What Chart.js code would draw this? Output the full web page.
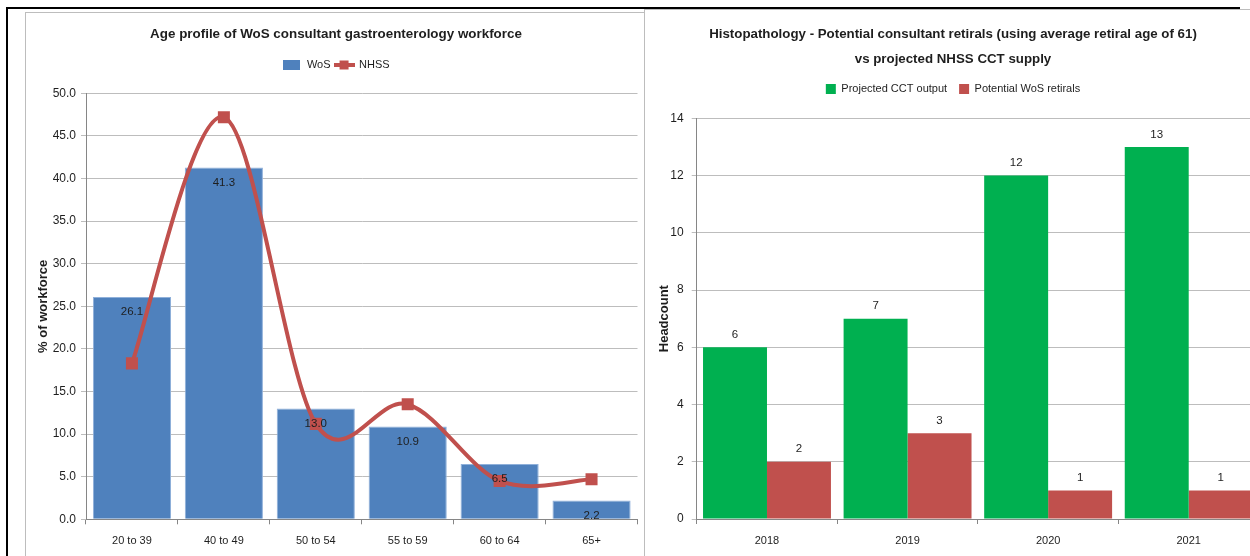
<!DOCTYPE html>
<html>
<head>
<meta charset="utf-8">
<title>Workforce charts</title>
<script src="https://cdn.jsdelivr.net/npm/chart.js@4.4.1/dist/chart.umd.min.js"></script>
<style>
  html, body { margin: 0; padding: 0; background: #fff; }
  body { width: 1250px; height: 556px; position: relative; overflow: hidden; }
  .rule { position: absolute; }
  canvas { position: absolute; }
  #rightPanel { position: absolute; left: 644px; top: 9px; width: 620px; height: 560px;
                background: #fff; border-left: 1px solid #bdbdbd; border-top: 1px solid #bdbdbd; }
</style>
</head>
<body>
<!-- frame lines -->
<div class="rule" style="left:6px;top:7px;width:2px;height:549px;background:#000"></div>
<div class="rule" style="left:6px;top:7px;width:1234px;height:2px;background:#000"></div>
<div class="rule" style="left:25px;top:12px;width:1px;height:544px;background:#bdbdbd"></div>
<div class="rule" style="left:25px;top:12px;width:620px;height:1px;background:#bdbdbd"></div>

<canvas id="ageChart" width="620" height="543" style="left:26px;top:13px"></canvas>
<div id="rightPanel"></div>
<canvas id="retChart" width="612" height="544" style="left:647px;top:12px"></canvas>

<script>
// ── DATA ──
const ageBands = ['20 to 39', '40 to 49', '50 to 54', '55 to 59', '60 to 64', '65+'];
const wosShare = [26.1, 41.3, 13.0, 10.9, 6.5, 2.2];
const nhssShare = [18.3, 47.2, 11.2, 13.5, 4.5, 4.7];
const ageAxisMax = 50;
const ageAxisStep = 5;

const years = ['2018', '2019', '2020', '2021'];
const cctOutput = [6, 7, 12, 13];
const wosRetirals = [2, 3, 1, 1];
const headAxisMax = 14;
const headAxisStep = 2;

// ── STYLE ──
const BLUE = '#4F81BD';
const RED = '#C0504D';
const GREEN = '#00B050';
const GRID = '#bdbdbd';
const AXIS = '#868686';
const INK = '#1e1e1e';
const SANS = "'Liberation Sans', Arial, sans-serif";
const yTickFont = { family: SANS, size: 12 };
const xTickFont = { family: SANS, size: 11 };
const axisTitleFont = { family: SANS, size: 13, weight: 'bold' };

// bar value labels (no datalabels plugin available offline)
const valueLabels = {
    id: 'valueLabels',
    afterDatasetsDraw(chart, args, opts) {
        const ctx = chart.ctx;
        ctx.save();
        ctx.font = '11.5px ' + SANS;
        ctx.fillStyle = INK;
        ctx.textAlign = 'center';
        ctx.textBaseline = 'middle';
        chart.data.datasets.forEach((ds, i) => {
            if (ds.type === 'line') return;
            chart.getDatasetMeta(i).data.forEach((bar, j) => {
                ctx.fillText(ds.data[j].toFixed(opts.decimals), bar.x, bar.y + opts.offset);
            });
        });
        ctx.restore();
    }
};

// spreadsheet-style smoothing: control points at +-(next - prev) / 6
const softCurve = {
    id: 'softCurve',
    beforeDatasetDraw(chart, args) {
        const meta = args.meta;
        if (meta.type !== 'line') return;
        meta.dataset.updateControlPoints(chart.chartArea, 'x');
        const pts = meta.data;
        pts.forEach((p, i) => {
            const prev = pts[Math.max(i - 1, 0)];
            const next = pts[Math.min(i + 1, pts.length - 1)];
            const dx = (next.x - prev.x) / 6;
            const dy = (next.y - prev.y) / 6;
            p.cp1x = p.x - dx; p.cp1y = p.y - dy;
            p.cp2x = p.x + dx; p.cp2y = p.y + dy;
        });
    }
};

// blank box under the legend to push the plot area down
const spacer = h => ({
    display: true, text: '', weight: 500,
    font: { size: 1, lineHeight: 1 },
    padding: { top: 0, bottom: h - 1 }
});

// legend icons: plain box for WoS, line with square marker for NHSS
function makeIcon(w, h, draw) {
    const c = document.createElement('canvas');
    c.width = w; c.height = h;
    draw(c.getContext('2d'));
    return c;
}
const wosIcon = makeIcon(17, 10, g => { g.fillStyle = BLUE; g.fillRect(0, 0, 17, 10); });
const nhssIcon = makeIcon(21, 10, g => {
    g.fillStyle = RED;
    g.fillRect(0, 3, 21, 4);
    g.fillRect(6, 0.5, 9, 9);
});
const legendIcons = [wosIcon, nhssIcon];

// ── AGE PROFILE CHART ──
new Chart(document.getElementById('ageChart'), {
    type: 'bar',
    data: {
        labels: ageBands,
        datasets: [{
            label: 'WoS',
            data: wosShare,
            backgroundColor: BLUE,
            borderColor: '#8fb0da',
            borderWidth: 1,
            barPercentage: 0.85,
            categoryPercentage: 1,
            order: 1
        }, {
            type: 'line',
            label: 'NHSS',
            data: nhssShare,
            borderColor: RED,
            borderWidth: 4,
            tension: 0.4,
            pointStyle: 'rect',
            pointRadius: 8.5,
            pointBackgroundColor: RED,
            pointBorderWidth: 0,
            order: 0
        }]
    },
    options: {
        responsive: false,
        animation: false,
        plugins: {
            title: {
                display: true,
                text: 'Age profile of WoS consultant gastroenterology workforce',
                color: INK,
                font: { family: SANS, size: 13.4, weight: 'bold', lineHeight: '16px' },
                padding: { top: 13, bottom: 13.5 }
            },
            legend: {
                labels: {
                    usePointStyle: true,
                    pointStyleWidth: 19,
                    padding: 4,
                    color: INK,
                    font: { family: SANS, size: 11 },
                    sort: (a, b) => a.datasetIndex - b.datasetIndex,
                    generateLabels: chart => Chart.defaults.plugins.legend.labels.generateLabels(chart)
                        .map(item => ({ ...item, pointStyle: legendIcons[item.datasetIndex] }))
                }
            },
            subtitle: spacer(12.8),
            tooltip: { enabled: false },
            valueLabels: { offset: 15, decimals: 1 }
        },
        scales: {
            x: {
                grid: { offset: true, drawOnChartArea: false, color: AXIS, tickLength: 5 },
                border: { color: AXIS },
                ticks: { color: INK, font: xTickFont, padding: 10 },
                afterFit: s => { s.height = 36.7; }
            },
            y: {
                min: 0,
                max: ageAxisMax,
                grid: { color: GRID, tickLength: 5 },
                border: { color: AXIS },
                ticks: { stepSize: ageAxisStep, color: INK, font: yTickFont, padding: 5,
                         callback: v => v.toFixed(1) },
                title: {
                    display: true,
                    text: '% of workforce',
                    color: INK,
                    font: axisTitleFont,
                    padding: { top: 10, bottom: 0 }
                },
                afterFit: s => { s.width = 60; }
            }
        }
    },
    plugins: [valueLabels, softCurve]
});

// ── RETIRALS VS CCT CHART ──
new Chart(document.getElementById('retChart'), {
    type: 'bar',
    data: {
        labels: years,
        datasets: [{
            label: 'Projected CCT output',
            data: cctOutput,
            backgroundColor: GREEN,
            borderWidth: 0,
            barPercentage: 1,
            categoryPercentage: 0.91
        }, {
            label: 'Potential WoS retirals',
            data: wosRetirals,
            backgroundColor: RED,
            borderWidth: 0,
            barPercentage: 1,
            categoryPercentage: 0.91
        }]
    },
    options: {
        responsive: false,
        animation: false,
        plugins: {
            title: {
                display: true,
                text: ['Histopathology - Potential consultant retirals (using average retiral age of 61)',
                       'vs projected NHSS CCT supply'],
                color: INK,
                font: { family: SANS, size: 13.3, weight: 'bold', lineHeight: '25px' },
                padding: { top: 9.5, bottom: 0 }
            },
            legend: {
                labels: {
                    boxWidth: 10,
                    boxHeight: 10,
                    padding: 12,
                    color: INK,
                    font: { family: SANS, size: 11 }
                }
            },
            subtitle: spacer(13.8),
            tooltip: { enabled: false },
            valueLabels: { offset: -12.5, decimals: 0 }
        },
        scales: {
            x: {
                grid: { offset: true, drawOnChartArea: false, color: AXIS, tickLength: 5 },
                border: { color: AXIS },
                ticks: { color: INK, font: xTickFont, padding: 10 },
                afterFit: s => { s.height = 37; }
            },
            y: {
                min: 0,
                max: headAxisMax,
                grid: { color: GRID, tickLength: 5 },
                border: { color: AXIS },
                ticks: { stepSize: headAxisStep, color: INK, font: yTickFont, padding: 8 },
                title: {
                    display: true,
                    text: 'Headcount',
                    color: INK,
                    font: axisTitleFont,
                    padding: { top: 10, bottom: 0 }
                },
                afterFit: s => { s.width = 49.7; }
            }
        }
    },
    plugins: [valueLabels]
});
</script>
</body>
</html>
